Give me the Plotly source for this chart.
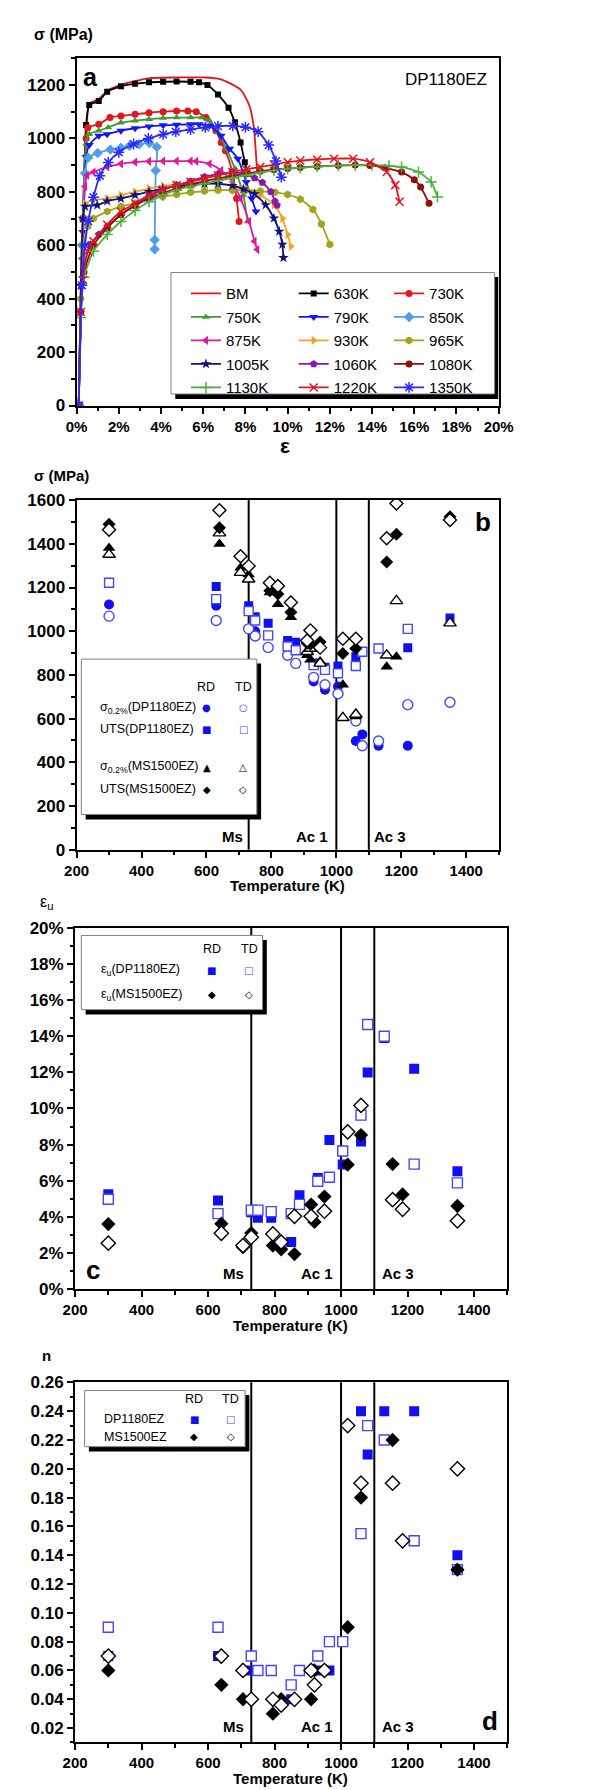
import plotly.graph_objects as go

W, H = 602, 1790
FONT = "Liberation Sans, Arial, Helvetica, sans-serif"
SYMFONT = "DejaVu Sans, Liberation Sans, sans-serif"

# ================= Panel a : stress-strain curves (strain in %, stress in MPa) =================
bm_strain = [0.1, 0.3, 0.45, 0.55, 0.7, 1.0, 1.5, 2.1, 2.8, 3.4, 4.5, 5.5, 6.1, 6.8, 7.3, 7.8, 8.2, 8.4, 8.5, 8.55]
bm_stress = [0, 600, 1000, 1110, 1135, 1145, 1180, 1200, 1215, 1225, 1228, 1228, 1228, 1222, 1205, 1180, 1120, 1040, 940, 880]

k630_strain = [0.1, 0.3, 0.45, 0.6, 1.05, 1.45, 2.1, 2.77, 3.43, 4.1, 4.74, 5.4, 5.8, 6.2, 6.7, 7.2, 7.5, 7.77, 7.97, 8.1]
k630_stress = [0, 700, 1050, 1125, 1140, 1175, 1195, 1205, 1210, 1212, 1213, 1212, 1210, 1200, 1164, 1115, 1060, 985, 911, 870]

k730_strain = [0.1, 0.3, 0.45, 0.53, 1.05, 1.58, 2.1, 2.77, 3.43, 4.1, 4.74, 5.27, 5.67, 6.13, 6.6, 6.85, 7.05, 7.38, 7.58, 7.7]
k730_stress = [0, 700, 1000, 1040, 1053, 1078, 1084, 1090, 1096, 1100, 1103, 1103, 1100, 1078, 1029, 985, 954, 874, 775, 689]

k750_strain = [0.1, 0.3, 0.45, 0.6, 1.05, 1.5, 2.1, 2.77, 3.43, 4.1, 4.74, 5.4, 5.93, 6.3, 6.7, 7.1, 7.5, 7.9, 8.1]
k750_stress = [0, 700, 980, 1016, 1029, 1041, 1059, 1066, 1072, 1076, 1078, 1078, 1078, 1066, 1022, 961, 887, 788, 689]

k790_strain = [0.1, 0.3, 0.45, 0.6, 1.05, 1.45, 2.1, 2.77, 3.43, 4.1, 4.74, 5.4, 5.8, 6.3, 6.85, 7.25, 7.64, 8.04, 8.3, 8.5]
k790_stress = [0, 650, 930, 975, 1010, 1016, 1029, 1038, 1045, 1049, 1051, 1053, 1053, 1047, 1010, 961, 924, 837, 775, 726]

k850_strain = [0.1, 0.25, 0.4, 0.55, 1.0, 1.6, 2.1, 2.5, 2.96, 3.45, 3.8, 3.75, 3.7, 3.7]
k850_stress = [0, 600, 870, 928, 945, 958, 965, 972, 978, 983, 968, 880, 620, 585]

k875_strain = [0.1, 0.25, 0.4, 0.5, 0.8, 1.45, 2.1, 2.77, 3.43, 4.1, 4.74, 5.4, 5.67, 6.3, 6.85, 7.4, 7.77, 8.17, 8.43, 8.56]
k875_stress = [0, 550, 820, 862, 874, 893, 905, 911, 914, 915, 915, 915, 914, 905, 880, 837, 775, 689, 615, 584]

k930_strain = [0.1, 0.2, 0.3, 0.4, 0.8, 1.45, 2.1, 2.77, 3.43, 4.1, 4.74, 5.4, 6.06, 6.7, 7.38, 8.04, 8.7, 9.35, 9.75, 10.0, 10.15]
k930_stress = [0, 450, 700, 755, 769, 775, 788, 800, 812, 822, 828, 831, 833, 831, 825, 812, 788, 751, 701, 640, 596]

k965_strain = [0.1, 0.2, 0.3, 0.53, 0.8, 1.45, 2.1, 2.77, 3.43, 4.08, 4.74, 5.4, 6.06, 6.7, 7.38, 8.04, 8.7, 9.4, 10.0, 10.6, 11.2, 11.6, 12.0]
k965_stress = [0, 400, 600, 670, 700, 726, 745, 757, 773, 782, 790, 798, 803, 806, 806, 806, 803, 798, 790, 772, 734, 680, 603]

k1005_strain = [0.1, 0.2, 0.3, 0.4, 0.98, 1.45, 2.1, 2.77, 3.43, 4.08, 4.74, 5.4, 6.06, 6.7, 7.38, 7.9, 8.43, 8.96, 9.35, 9.6, 9.75, 9.8]
k1005_stress = [0, 450, 700, 745, 750, 765, 775, 788, 800, 812, 821, 827, 830, 830, 823, 810, 792, 751, 701, 652, 603, 553]

k1060_strain = [0.1, 0.2, 0.35, 0.66, 1.05, 1.45, 2.1, 2.77, 3.43, 4.08, 4.74, 5.4, 6.06, 6.7, 7.38, 7.9, 8.43, 8.8, 9.2, 9.4, 9.5]
k1060_stress = [0, 350, 520, 603, 640, 670, 714, 751, 782, 806, 825, 840, 856, 866, 872, 868, 852, 835, 800, 765, 750]

k1080_strain = [0.1, 0.2, 0.35, 0.8, 1.45, 2.1, 2.77, 3.43, 4.08, 4.74, 5.4, 6.06, 6.7, 7.38, 8.04, 8.7, 9.35, 10.0, 10.6, 11.4, 12.4, 13.2, 13.9, 14.6, 15.4, 16.0, 16.3, 16.7]
k1080_stress = [0, 350, 500, 600, 664, 714, 748, 775, 795, 812, 827, 840, 850, 859, 868, 877, 883, 887, 891, 895, 899, 900, 899, 890, 874, 845, 818, 757]

k1130_strain = [0.1, 0.2, 0.35, 0.8, 1.45, 2.1, 2.77, 3.43, 4.08, 4.74, 5.4, 6.06, 6.7, 7.38, 8.04, 8.7, 9.35, 10.0, 10.6, 11.4, 12.4, 13.2, 14.0, 14.8, 15.4, 16.2, 16.8, 17.1]
k1130_stress = [0, 330, 480, 578, 640, 689, 730, 763, 788, 806, 820, 831, 842, 852, 862, 872, 880, 887, 890, 894, 898, 900, 900, 897, 893, 874, 837, 781]

k1220_strain = [0.1, 0.2, 0.3, 0.53, 0.8, 1.45, 2.1, 2.77, 3.43, 4.08, 4.74, 5.4, 6.06, 6.7, 7.38, 8.04, 8.7, 9.35, 10.0, 10.6, 11.4, 12.2, 13.1, 13.9, 14.7, 15.1, 15.3]
k1220_stress = [0, 350, 470, 578, 615, 677, 726, 757, 788, 808, 825, 838, 850, 862, 874, 884, 893, 902, 911, 917, 921, 924, 924, 911, 874, 825, 763]

k1350_strain = [0.1, 0.25, 0.4, 0.55, 0.8, 1.1, 1.5, 2.0, 2.7, 3.4, 4.1, 4.7, 5.4, 6.1, 6.7, 7.4, 8.0, 8.6, 9.1, 9.45, 9.7]
k1350_stress = [0, 450, 600, 690, 780, 860, 910, 948, 979, 1000, 1015, 1025, 1033, 1041, 1046, 1047, 1042, 1025, 975, 915, 855]

curve_names = ["BM", "630K", "730K", "750K", "790K", "850K", "875K", "930K", "965K",
               "1005K", "1060K", "1080K", "1130K", "1220K", "1350K"]
curve_data = {
    "BM": (bm_strain, bm_stress), "630K": (k630_strain, k630_stress), "730K": (k730_strain, k730_stress),
    "750K": (k750_strain, k750_stress), "790K": (k790_strain, k790_stress), "850K": (k850_strain, k850_stress),
    "875K": (k875_strain, k875_stress), "930K": (k930_strain, k930_stress), "965K": (k965_strain, k965_stress),
    "1005K": (k1005_strain, k1005_stress), "1060K": (k1060_strain, k1060_stress),
    "1080K": (k1080_strain, k1080_stress), "1130K": (k1130_strain, k1130_stress),
    "1220K": (k1220_strain, k1220_stress), "1350K": (k1350_strain, k1350_stress),
}

# ================= Panels b-d : properties vs temperature =================
DP_T = [300, 630, 730, 750, 790, 850, 875, 930, 965, 1005, 1060, 1080, 1130, 1220, 1350]
MS_T = [300, 640, 705, 730, 795, 820, 860, 910, 920, 950, 1020, 1060, 1155, 1185, 1350]
PHASE_T = [730, 1000, 1100]          # Ms, Ac1, Ac3
PHASE_LABELS = ["Ms", "Ac 1", "Ac 3"]

# panel b (MPa)
dp_ys_rd = [1122, 1117, None, 1000, None, None, None, 770, 732, 747, 498, 528, 476, 476, None]
dp_ys_td = [1069, 1049, 1011, 978, 926, 890, 853, 789, 755, 714, 589, 476, 498, 664, 675]
dp_uts_rd = [None, 1205, 1117, 1066, 1036, 958, 950, 855, 835, 841, 883, None, None, 925, 1061]
dp_uts_td = [1222, 1147, 1092, 1049, 981, 930, 913, 845, 823, 808, 841, 906, 921, 1011, None]
ms_ys_rd = [1381, 1399, 1290, 1260, 1177, 1124, 1064, 890, 870, 862, 755, 610, 838, 883, None]
ms_ys_td = [1351, 1449, 1268, 1238, None, None, None, 906, 921, 853, 604, 619, 890, 1139, 1037]
ms_uts_rd = [1490, 1474, None, None, 1185, 1170, 1087, 945, 940, 951, 898, 921, 1317, 1444, 1524]
ms_uts_td = [1464, 1554, 1343, 1298, 1222, 1207, 1132, 958, 1004, 925, 966, 966, 1426, 1585, 1509]

# panel c (uniform elongation, %)
dp_eu_rd = [5.25, 4.9, 4.25, 3.95, 3.95, 2.6, 5.2, 6.15, 8.25, 6.9, 8.17, 12.0, 13.9, 12.2, 6.52]
dp_eu_td = [4.97, 4.18, 4.37, 4.37, 4.29, 4.18, 4.69, 5.97, 6.19, 7.65, 9.63, 14.65, 14.0, 6.92, 5.88]
ms_eu_rd = [3.6, 3.62, 2.32, 3.1, 2.41, 2.2, 1.94, 4.68, 3.72, 5.12, 6.89, 8.53, 6.92, 5.24, 4.6]
ms_eu_td = [2.54, 3.09, 2.41, 2.87, 3.05, 2.6, 4.03, 4.03, None, 4.31, 8.71, 10.17, 4.95, 4.42, 3.78]

# panel d (n value)
dp_n_rd = [0.07, 0.07, 0.06, None, None, 0.04, None, 0.06, 0.06, None, 0.24, 0.21, 0.24, 0.24, 0.14]
dp_n_td = [0.09, 0.09, 0.07, 0.06, 0.06, 0.05, 0.06, 0.07, 0.08, 0.08, 0.155, 0.23, 0.22, 0.15, 0.13]
ms_n_rd = [0.06, 0.05, 0.04, None, 0.03, 0.04, None, 0.04, 0.06, None, 0.09, 0.18, 0.22, None, 0.13]
ms_n_td = [0.07, 0.07, 0.06, 0.04, 0.04, 0.036, 0.04, 0.06, 0.05, 0.06, 0.23, 0.19, 0.19, 0.15, 0.20]

# ================= styles =================
curve_style = {
    "BM":    dict(color="#e3161d", symbol=None, size=0, legend="legend"),
    "630K":  dict(color="#000000", symbol="square", size=6, legend="legend2"),
    "730K":  dict(color="#e3161d", symbol="circle", size=7, legend="legend3"),
    "750K":  dict(color="#3f9b2f", symbol="triangle-up", size=7, legend="legend"),
    "790K":  dict(color="#1414ff", symbol="triangle-down", size=8, legend="legend2"),
    "850K":  dict(color="#4f9de8", symbol="diamond", size=8, legend="legend3"),
    "875K":  dict(color="#e0189b", symbol="triangle-left", size=8, legend="legend"),
    "930K":  dict(color="#f3a32a", symbol="triangle-right", size=8, legend="legend2"),
    "965K":  dict(color="#a3a31c", symbol="hexagon", size=8, legend="legend3"),
    "1005K": dict(color="#12127f", symbol="star", size=8, legend="legend"),
    "1060K": dict(color="#8a18a8", symbol="pentagon", size=8, legend="legend2"),
    "1080K": dict(color="#8b1010", symbol="circle", size=7, legend="legend3"),
    "1130K": dict(color="#4caf3c", symbol="cross-thin", size=8, legend="legend"),
    "1220K": dict(color="#e3161d", symbol="x-thin", size=8, legend="legend2"),
    "1350K": dict(color="#2a2aff", symbol="asterisk", size=9, legend="legend3"),
}
BLUE = "#1010f0"
BLUE_OPEN = "#4646ff"

fig = go.Figure()

# ----- panel a traces -----
for name in curve_names:
    xs, ys = curve_data[name]
    st = curve_style[name]
    tr = dict(x=xs, y=ys, name=name, legend=st["legend"], legendgroup=name,
              line=dict(color=st["color"], width=1.8, shape="spline", smoothing=0.6),
              xaxis="x", yaxis="y")
    if st["symbol"] is None:
        tr["mode"] = "lines"
    else:
        tr["mode"] = "lines+markers"
        thin = st["symbol"] in ("cross-thin", "x-thin", "asterisk")
        tr["marker"] = dict(symbol=st["symbol"], size=st["size"], color=st["color"],
                            line=dict(color=st["color"], width=1.5 if thin else 0))
    fig.add_trace(go.Scatter(**tr))


def pts(xs, ys, ax, symbol, filled, color, size):
    if filled:
        mk = dict(symbol=symbol, size=size, color=color, line=dict(width=0))
    else:
        mk = dict(symbol=symbol, size=size, color="white", line=dict(color=color, width=1.4))
    return go.Scatter(x=xs, y=ys, mode="markers", marker=mk, showlegend=False,
                      xaxis="x" + ax, yaxis="y" + ax, hoverinfo="x+y")


# ----- panel b -----
fig.add_trace(pts(DP_T, dp_ys_rd, "2", "circle", True, BLUE, 10))
fig.add_trace(pts(DP_T, dp_ys_td, "2", "circle", False, BLUE_OPEN, 10))
fig.add_trace(pts(DP_T, dp_uts_rd, "2", "square", True, BLUE, 9))
fig.add_trace(pts(DP_T, dp_uts_td, "2", "square", False, BLUE_OPEN, 9))
fig.add_trace(pts(MS_T, ms_ys_rd, "2", "triangle-up", True, "black", 11))
fig.add_trace(pts(MS_T, ms_ys_td, "2", "triangle-up", False, "black", 11))
fig.add_trace(pts(MS_T, ms_uts_rd, "2", "diamond", True, "black", 10))
fig.add_trace(pts(MS_T, ms_uts_td, "2", "diamond", False, "black", 10))

# ----- panel c -----
fig.add_trace(pts(DP_T, dp_eu_rd, "3", "square", True, BLUE, 10))
fig.add_trace(pts(DP_T, dp_eu_td, "3", "square", False, BLUE_OPEN, 10))
fig.add_trace(pts(MS_T, ms_eu_rd, "3", "diamond", True, "black", 11))
fig.add_trace(pts(MS_T, ms_eu_td, "3", "diamond", False, "black", 11))

# ----- panel d -----
fig.add_trace(pts(DP_T, dp_n_rd, "4", "square", True, BLUE, 10))
fig.add_trace(pts(DP_T, dp_n_td, "4", "square", False, BLUE_OPEN, 10))
fig.add_trace(pts(MS_T, ms_n_rd, "4", "diamond", True, "black", 11))
fig.add_trace(pts(MS_T, ms_n_td, "4", "diamond", False, "black", 11))


# ================= axes =================
def axis(domain, rng, dtick, minor_dtick, anchor, size, **kw):
    d = dict(domain=domain, range=rng, dtick=dtick, anchor=anchor,
             showline=True, linecolor="black", linewidth=2, mirror=True,
             ticks="outside", ticklen=6, tickwidth=2, tickcolor="black",
             showgrid=False, zeroline=False,
             tickfont=dict(family=FONT, size=size, color="black", weight="bold"),
             minor=dict(dtick=minor_dtick, ticks="outside", ticklen=3.5, tickwidth=1.5,
                        tickcolor="black", showgrid=False))
    d.update(kw)
    return d


XA = [58.3 / W, 501 / W]
XC = [56.7 / W, 510 / W]
fig.update_layout(
    xaxis=axis(XA, [0, 20.0001], 2, 1, "y", 15, ticksuffix="%"),
    yaxis=axis([1 - 392.7 / H, 1 - 41.7 / H], [0, 1300], 200, 100, "x", 17),
    xaxis2=axis(XA, [200, 1500], 200, 100, "y2", 15),
    yaxis2=axis([1 - 841.7 / H, 1 - 488.3 / H], [0, 1600.01], 200, 100, "x2", 17),
    xaxis3=axis(XC, [200, 1500], 200, 100, "y3", 15),
    yaxis3=axis([1 - 1285.7 / H, 1 - 920.7 / H], [0, 20.0001], 2, 1, "x3", 17, ticksuffix="%"),
    xaxis4=axis(XC, [200, 1500], 200, 100, "y4", 15),
    yaxis4=axis([1 - 1744 / H, 1 - 1380 / H], [0.01, 0.26001], 0.02, 0.01, "x4", 17,
                tick0=0.02, tickformat=".2f"),
)


# ================= legends (panel a, three columns) =================
def leg(x_px, top_px, gap, size=15):
    return dict(x=x_px / W, y=1 - top_px / H, xanchor="left", yanchor="top",
                bgcolor="rgba(0,0,0,0)", borderwidth=0, tracegroupgap=gap,
                font=dict(family=FONT, size=size, color="black"))


fig.update_layout(legend=leg(173, 263, 1), legend2=leg(286, 263, 1), legend3=leg(386, 263, 1))


# ================= shapes =================
def rect(x0, y0, x1, y1, fill, line_color=None, lw=0):
    return dict(type="rect", xref="paper", yref="paper", x0=x0 / W, x1=x1 / W,
                y0=1 - y1 / H, y1=1 - y0 / H, fillcolor=fill,
                line=dict(color=line_color or fill, width=lw), layer="above")


shapes = []
for ax in ("2", "3", "4"):
    for t in PHASE_T:
        shapes.append(dict(type="line", xref="x" + ax, yref="y" + ax + " domain",
                           x0=t, x1=t, y0=0, y1=1, line=dict(color="black", width=2),
                           layer="below"))
# legend frames with drop shadow
for (x0, y0, x1, y1) in [(157.3, 258.3, 496.7, 381), (63.3, 649, 247.3, 806),
                         (63.3, 928.3, 253.3, 1003.3), (66.7, 1388.3, 235, 1445)]:
    shapes.append(rect(x0 + 4.5, y0 + 4.5, min(x1 + 4.5, 500.5), y1 + 5, "black"))
    shapes.append(rect(x0, y0, x1, y1, "white", "#808080", 1))
fig.update_layout(shapes=shapes)


# ================= text =================
def A(text, x, y, size=15, bold=True, xanchor="center", yanchor="middle", color="black",
      family=FONT):
    return dict(text=text, x=x / W, y=1 - y / H, xref="paper", yref="paper",
                xanchor=xanchor, yanchor=yanchor, showarrow=False,
                font=dict(family=family, size=size, color=color,
                          weight="bold" if bold else "normal"))


def key(sym, x, y, color, size=10):
    return A(sym, x, y, size, bold=False, color=color, family=SYMFONT)


ann = [
    # panel a
    A("σ (MPa)", 12, 18, 16, xanchor="left"),
    A("a", 73, 61, 25),
    A("DP1180EZ", 491, 63, 17, bold=False, xanchor="right"),
    A("ε", 277, 433, 21),
    # panel b
    A("σ (MPa)", 12, 463, 15, xanchor="left"),
    A("b", 485, 510, 26),
    A("Temperature (K)", 280, 878, 15),
    A("RD", 194.3, 677.3, 12.5, bold=False), A("TD", 233.3, 677.3, 12.5, bold=False),
    A("σ<sub>0.2%</sub>(DP1180EZ)", 81, 698.3, 12.5, bold=False, xanchor="left"),
    A("UTS(DP1180EZ)", 81, 720, 12.5, bold=False, xanchor="left"),
    A("σ<sub>0.2%</sub>(MS1500EZ)", 81, 758.3, 12.5, bold=False, xanchor="left"),
    A("UTS(MS1500EZ)", 81, 780.7, 12.5, bold=False, xanchor="left"),
    key("●", 195, 698.3, BLUE), key("○", 233.3, 698.3, BLUE_OPEN),
    key("■", 195, 720, BLUE), key("□", 233.3, 720, BLUE_OPEN),
    key("▲", 195, 758.3, "black"), key("△", 233.3, 758.3, "black"),
    key("◆", 195, 780.7, "black"), key("◇", 233.3, 780.7, "black"),
    # panel c
    A("ε<sub>u</sub>", 18, 895, 16, bold=False, xanchor="left"),
    A("c", 75, 1266, 26),
    A("Temperature (K)", 283, 1323, 15),
    A("RD", 200, 941.7, 12.5, bold=False), A("TD", 239.3, 941.7, 12.5, bold=False),
    A("ε<sub>u</sub>(DP1180EZ)", 82, 963.3, 12.5, bold=False, xanchor="left"),
    A("ε<sub>u</sub>(MS1500EZ)", 82, 988.3, 12.5, bold=False, xanchor="left"),
    key("■", 200, 963.3, BLUE), key("□", 238.7, 963.3, BLUE_OPEN),
    key("◆", 200, 988.3, "black"), key("◇", 238.7, 988.3, "black"),
    # panel d
    A("n", 27, 1353, 15),
    A("d", 492, 1722, 26),
    A("Temperature (K)", 283, 1780, 15),
    A("RD", 181.7, 1396.7, 12.5, bold=False), A("TD", 220, 1396.7, 12.5, bold=False),
    A("DP1180EZ", 85, 1417.3, 12.5, bold=False, xanchor="left"),
    A("MS1500EZ", 85, 1435, 12.5, bold=False, xanchor="left"),
    key("■", 181.7, 1417.3, BLUE), key("□", 220, 1417.3, BLUE_OPEN),
    key("◆", 181.7, 1435, "black"), key("◇", 220, 1435, "black"),
]
# phase-boundary labels
label_rows = [(828, 235, 324, 368), (1270, 236, 329, 377), (1728, 236, 329, 377)]
for (yy, ms_r, ac1_r, ac3_l) in label_rows:
    ann.append(A(PHASE_LABELS[0], ms_r, yy, 15, xanchor="right"))
    ann.append(A(PHASE_LABELS[1], ac1_r, yy, 15, xanchor="right"))
    ann.append(A(PHASE_LABELS[2], ac3_l, yy, 15, xanchor="left"))
fig.update_layout(annotations=ann)

fig.update_layout(width=W, height=H, margin=dict(l=0, r=0, t=0, b=0),
                  paper_bgcolor="white", plot_bgcolor="white",
                  font=dict(family=FONT, color="black"), showlegend=True)

fig.write_html("out.html")
